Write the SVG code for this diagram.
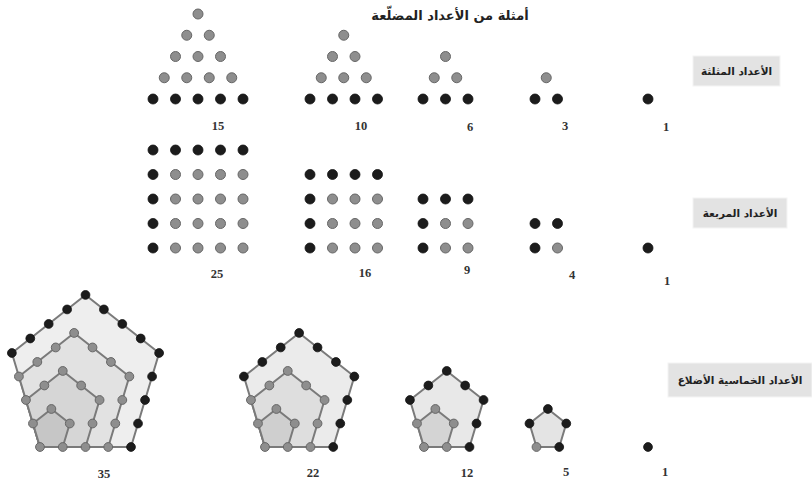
<svg xmlns="http://www.w3.org/2000/svg" xmlns:xlink="http://www.w3.org/1999/xlink" width="812" height="486" viewBox="0 0 812 486">
<style>
.b{fill:#1c1c1c;stroke:#111;stroke-width:0.8}
.g{fill:#8e8e8e;stroke:#666;stroke-width:1}
.num{font-family:"Liberation Serif",serif;font-weight:bold;font-size:12.5px;fill:#333;text-anchor:middle}
.lab{font-family:"DejaVu Sans","Noto Sans",sans-serif;font-weight:bold;font-size:10.5px;fill:#222;text-anchor:middle}
.title{font-family:"DejaVu Sans","Noto Sans",sans-serif;font-weight:bold;font-size:13px;fill:#222;text-anchor:middle}
.box{fill:#e3e3e3;stroke:#f4f4f4;stroke-width:1}
.pg{stroke:#7a7a7a;stroke-width:2;stroke-linejoin:round}
</style>
<defs>
<circle id="d" r="5"/>
<circle id="pd" r="4.4"/>
<polygon id="p1" points="0,0 22.75,0 29.78,-23.5 11.38,-38.02 -7.03,-23.5"/>
<polygon id="p2" points="0,0 45.5,0 59.56,-47 22.75,-76.04 -14.06,-47"/>
<polygon id="p3" points="0,0 68.25,0 89.34,-70.5 34.13,-114.06 -21.09,-70.5"/>
<polygon id="p4" points="0,0 91,0 119.12,-94 45.5,-152.08 -28.12,-94"/>
<g id="g0"><use xlink:href="#pd" x="0" y="0"/></g>
<g id="g1">
<use xlink:href="#pd" x="22.75" y="0"/><use xlink:href="#pd" x="29.78" y="-23.5"/><use xlink:href="#pd" x="11.38" y="-38.02"/><use xlink:href="#pd" x="-7.03" y="-23.5"/>
</g>
<g id="g2">
<use xlink:href="#pd" x="45.5" y="0"/><use xlink:href="#pd" x="52.53" y="-23.5"/><use xlink:href="#pd" x="59.56" y="-47"/><use xlink:href="#pd" x="41.16" y="-61.52"/><use xlink:href="#pd" x="22.75" y="-76.04"/><use xlink:href="#pd" x="4.35" y="-61.52"/><use xlink:href="#pd" x="-14.06" y="-47"/>
</g>
<g id="g3">
<use xlink:href="#pd" x="68.25" y="0"/><use xlink:href="#pd" x="75.28" y="-23.5"/><use xlink:href="#pd" x="82.31" y="-47"/><use xlink:href="#pd" x="89.34" y="-70.5"/><use xlink:href="#pd" x="70.94" y="-85.02"/><use xlink:href="#pd" x="52.53" y="-99.54"/><use xlink:href="#pd" x="34.13" y="-114.06"/><use xlink:href="#pd" x="15.72" y="-99.54"/><use xlink:href="#pd" x="-2.68" y="-85.02"/><use xlink:href="#pd" x="-21.09" y="-70.5"/>
</g>
<g id="g4">
<use xlink:href="#pd" x="91" y="0"/><use xlink:href="#pd" x="98.03" y="-23.5"/><use xlink:href="#pd" x="105.06" y="-47"/><use xlink:href="#pd" x="112.09" y="-70.5"/><use xlink:href="#pd" x="119.12" y="-94"/><use xlink:href="#pd" x="100.72" y="-108.52"/><use xlink:href="#pd" x="82.31" y="-123.04"/><use xlink:href="#pd" x="63.91" y="-137.56"/><use xlink:href="#pd" x="45.5" y="-152.08"/><use xlink:href="#pd" x="27.1" y="-137.56"/><use xlink:href="#pd" x="8.69" y="-123.04"/><use xlink:href="#pd" x="-9.72" y="-108.52"/><use xlink:href="#pd" x="-28.12" y="-94"/>
</g>
</defs>
<rect width="812" height="486" fill="#ffffff"/>

<text class="title" x="450" y="20">أمثلة من الأعداد المضلّعة</text>

<g id="label-triangular">
<rect class="box" x="693" y="56" width="87" height="30"/>
<text class="lab" x="736.5" y="75">الأعداد المثلثة</text>
</g>
<g id="label-square">
<rect class="box" x="693" y="198" width="94" height="30"/>
<text class="lab" x="740" y="217">الأعداد المربعة</text>
</g>
<g id="label-pentagonal">
<rect class="box" x="668" y="363" width="144" height="34"/>
<text class="lab" x="740" y="384">الأعداد الخماسية الأضلاع</text>
</g>

<!-- triangular numbers -->
<g id="tri15">
<g class="g">
<use xlink:href="#d" x="198" y="14"/>
<use xlink:href="#d" x="186.75" y="35.25"/><use xlink:href="#d" x="209.25" y="35.25"/>
<use xlink:href="#d" x="175.5" y="56.5"/><use xlink:href="#d" x="198" y="56.5"/><use xlink:href="#d" x="220.5" y="56.5"/>
<use xlink:href="#d" x="164.25" y="77.75"/><use xlink:href="#d" x="186.75" y="77.75"/><use xlink:href="#d" x="209.25" y="77.75"/><use xlink:href="#d" x="231.75" y="77.75"/>
</g>
<g class="b">
<use xlink:href="#d" x="153" y="99"/><use xlink:href="#d" x="175.5" y="99"/><use xlink:href="#d" x="198" y="99"/><use xlink:href="#d" x="220.5" y="99"/><use xlink:href="#d" x="243" y="99"/>
</g>
<text class="num" x="218" y="130">15</text>
</g>
<g id="tri10">
<g class="g">
<use xlink:href="#d" x="343.75" y="35.25"/>
<use xlink:href="#d" x="332.5" y="56.5"/><use xlink:href="#d" x="355" y="56.5"/>
<use xlink:href="#d" x="321.25" y="77.75"/><use xlink:href="#d" x="343.75" y="77.75"/><use xlink:href="#d" x="366.25" y="77.75"/>
</g>
<g class="b">
<use xlink:href="#d" x="310" y="99"/><use xlink:href="#d" x="332.5" y="99"/><use xlink:href="#d" x="355" y="99"/><use xlink:href="#d" x="377.5" y="99"/>
</g>
<text class="num" x="361" y="130">10</text>
</g>
<g id="tri6">
<g class="g">
<use xlink:href="#d" x="445.5" y="56.5"/>
<use xlink:href="#d" x="434.25" y="77.75"/><use xlink:href="#d" x="456.75" y="77.75"/>
</g>
<g class="b">
<use xlink:href="#d" x="423" y="99"/><use xlink:href="#d" x="445.5" y="99"/><use xlink:href="#d" x="468" y="99"/>
</g>
<text class="num" x="470" y="131">6</text>
</g>
<g id="tri3">
<g class="g"><use xlink:href="#d" x="546.25" y="77.75"/></g>
<g class="b"><use xlink:href="#d" x="535" y="99"/><use xlink:href="#d" x="557.5" y="99"/></g>
<text class="num" x="565" y="130">3</text>
</g>
<g id="tri1">
<g class="b"><use xlink:href="#d" x="648" y="99"/></g>
<text class="num" x="666" y="131">1</text>
</g>

<!-- square numbers -->
<g id="sq25">
<g class="b">
<use xlink:href="#d" x="153" y="150"/><use xlink:href="#d" x="175.5" y="150"/><use xlink:href="#d" x="198" y="150"/><use xlink:href="#d" x="220.5" y="150"/><use xlink:href="#d" x="243" y="150"/>
<use xlink:href="#d" x="153" y="174.5"/><use xlink:href="#d" x="153" y="199"/><use xlink:href="#d" x="153" y="223.5"/><use xlink:href="#d" x="153" y="248"/>
</g>
<g class="g">
<use xlink:href="#d" x="175.5" y="174.5"/><use xlink:href="#d" x="198" y="174.5"/><use xlink:href="#d" x="220.5" y="174.5"/><use xlink:href="#d" x="243" y="174.5"/>
<use xlink:href="#d" x="175.5" y="199"/><use xlink:href="#d" x="198" y="199"/><use xlink:href="#d" x="220.5" y="199"/><use xlink:href="#d" x="243" y="199"/>
<use xlink:href="#d" x="175.5" y="223.5"/><use xlink:href="#d" x="198" y="223.5"/><use xlink:href="#d" x="220.5" y="223.5"/><use xlink:href="#d" x="243" y="223.5"/>
<use xlink:href="#d" x="175.5" y="248"/><use xlink:href="#d" x="198" y="248"/><use xlink:href="#d" x="220.5" y="248"/><use xlink:href="#d" x="243" y="248"/>
</g>
<text class="num" x="217" y="278">25</text>
</g>
<g id="sq16">
<g class="b">
<use xlink:href="#d" x="310" y="174.5"/><use xlink:href="#d" x="332.5" y="174.5"/><use xlink:href="#d" x="355" y="174.5"/><use xlink:href="#d" x="377.5" y="174.5"/>
<use xlink:href="#d" x="310" y="199"/><use xlink:href="#d" x="310" y="223.5"/><use xlink:href="#d" x="310" y="248"/>
</g>
<g class="g">
<use xlink:href="#d" x="332.5" y="199"/><use xlink:href="#d" x="355" y="199"/><use xlink:href="#d" x="377.5" y="199"/>
<use xlink:href="#d" x="332.5" y="223.5"/><use xlink:href="#d" x="355" y="223.5"/><use xlink:href="#d" x="377.5" y="223.5"/>
<use xlink:href="#d" x="332.5" y="248"/><use xlink:href="#d" x="355" y="248"/><use xlink:href="#d" x="377.5" y="248"/>
</g>
<text class="num" x="365" y="277">16</text>
</g>
<g id="sq9">
<g class="b">
<use xlink:href="#d" x="423" y="199"/><use xlink:href="#d" x="445.5" y="199"/><use xlink:href="#d" x="468" y="199"/>
<use xlink:href="#d" x="423" y="223.5"/><use xlink:href="#d" x="423" y="248"/>
</g>
<g class="g">
<use xlink:href="#d" x="445.5" y="223.5"/><use xlink:href="#d" x="468" y="223.5"/>
<use xlink:href="#d" x="445.5" y="248"/><use xlink:href="#d" x="468" y="248"/>
</g>
<text class="num" x="467" y="274">9</text>
</g>
<g id="sq4">
<g class="b"><use xlink:href="#d" x="535" y="223.5"/><use xlink:href="#d" x="557.5" y="223.5"/><use xlink:href="#d" x="535" y="248"/></g>
<g class="g"><use xlink:href="#d" x="557.5" y="248"/></g>
<text class="num" x="572" y="279">4</text>
</g>
<g id="sq1">
<g class="b"><use xlink:href="#d" x="648" y="248"/></g>
<text class="num" x="667" y="285">1</text>
</g>

<!-- pentagonal numbers -->
<g id="pent35" transform="translate(40,447)">
<use xlink:href="#p4" class="pg" fill="#eeeeee"/>
<use xlink:href="#p3" class="pg" fill="#e2e2e2"/>
<use xlink:href="#p2" class="pg" fill="#d6d6d6"/>
<use xlink:href="#p1" class="pg" fill="#c6c6c6"/>
<use xlink:href="#g0" class="g"/>
<use xlink:href="#g1" class="g"/>
<use xlink:href="#g2" class="g"/>
<use xlink:href="#g3" class="g"/>
<use xlink:href="#g4" class="b"/>
<text class="num" x="64" y="31">35</text>
</g>
<g id="pent22" transform="translate(265,447)">
<use xlink:href="#p3" class="pg" fill="#ebebeb"/>
<use xlink:href="#p2" class="pg" fill="#dedede"/>
<use xlink:href="#p1" class="pg" fill="#cfcfcf"/>
<use xlink:href="#g0" class="g"/>
<use xlink:href="#g1" class="g"/>
<use xlink:href="#g2" class="g"/>
<use xlink:href="#g3" class="b"/>
<text class="num" x="48" y="30">22</text>
</g>
<g id="pent12" transform="translate(424,447)">
<use xlink:href="#p2" class="pg" fill="#e8e8e8"/>
<use xlink:href="#p1" class="pg" fill="#d4d4d4"/>
<use xlink:href="#g0" class="g"/>
<use xlink:href="#g1" class="g"/>
<use xlink:href="#g2" class="b"/>
<text class="num" x="43" y="30">12</text>
</g>
<g id="pent5" transform="translate(536.5,447)">
<use xlink:href="#p1" class="pg" fill="#e4e4e4"/>
<use xlink:href="#g0" class="g"/>
<use xlink:href="#g1" class="b"/>
<text class="num" x="29.5" y="29">5</text>
</g>
<g id="pent1">
<use xlink:href="#pd" x="648" y="447" class="b"/>
<text class="num" x="665" y="476">1</text>
</g>
</svg>
